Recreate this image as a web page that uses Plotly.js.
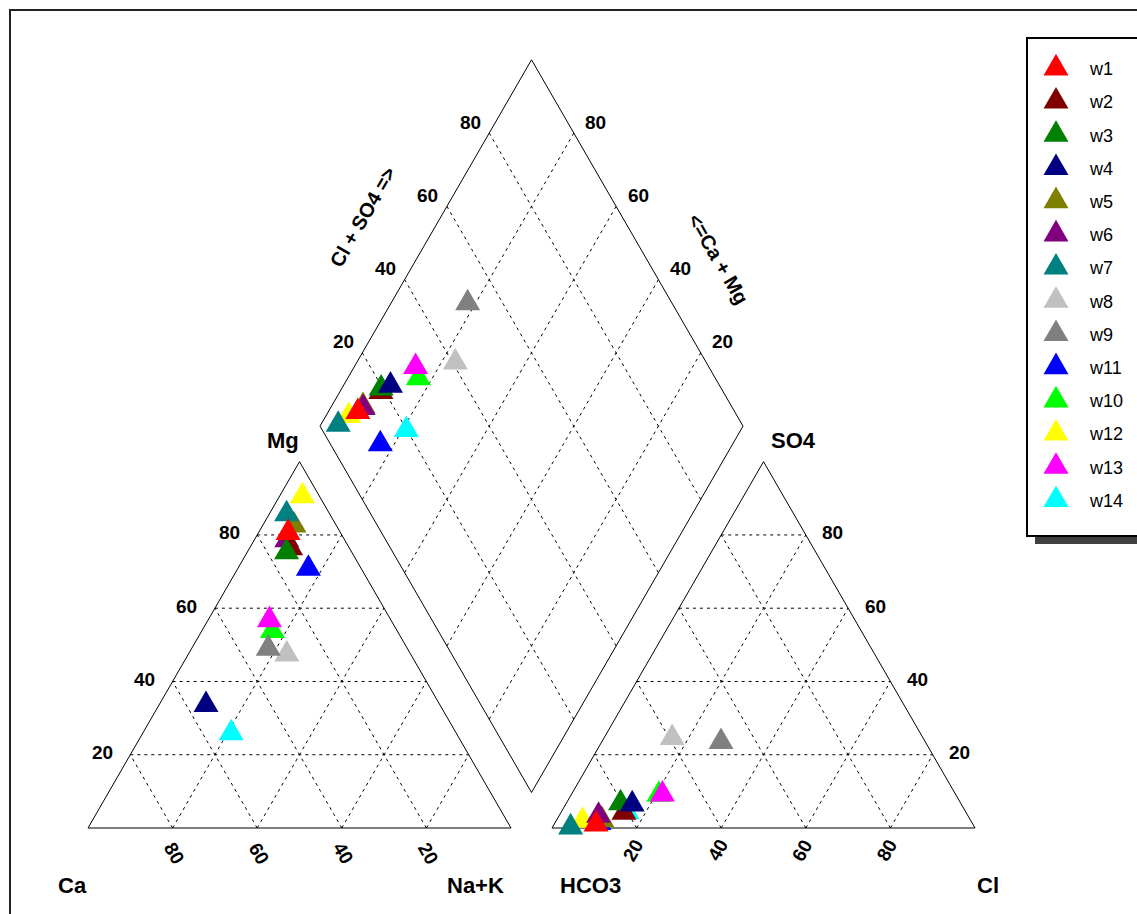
<!DOCTYPE html>
<html><head><meta charset="utf-8">
<script src="https://cdn.plot.ly/plotly-3.0.1.min.js"></script>
<style>html,body{margin:0;padding:0;background:#fff;} #chart{width:1137px;height:914px;}</style>
</head><body><div id="chart"></div>
<script>
// ---- data (percent of meq/l) ----
const wells   = ['w1','w2','w3','w4','w5','w6','w7','w8','w9','w11','w10','w12','w13','w14'];
const colors  = ['#FF0000','#800000','#008000','#000080','#808000','#800080','#008080','#C0C0C0','#808080','#0000FF','#00FF00','#FFFF00','#FF00FF','#00FFFF'];
// cations
const mg   = [80.6, 76.4, 75.3, 33.6, 82.6, 78.6, 85.7, 47.4, 49.0, 70.8, 53.8, 90.6, 56.8, 25.9];
const nak  = [ 7.0,  9.7,  9.3, 11.1,  7.4,  7.7,  4.1, 23.3, 18.1, 16.7, 16.7,  5.4, 14.5, 20.9];
const ca   = mg.map((m,i)=> +(100 - m - nak[i]).toFixed(1));
// anions
const so4  = [ 1.0,  4.2,  6.8,  6.5,  2.2,  3.4,  0.2, 24.6, 23.5,  1.4,  9.1,  2.0,  9.2,  4.4];
const cl   = [ 9.9, 14.9, 12.8, 15.7, 10.7,  9.3,  4.3, 16.1, 28.2, 10.4, 20.7,  6.2, 21.5, 15.5];
const hco3 = so4.map((s,i)=> +(100 - s - cl[i]).toFixed(1));
// drawing order (bottom to top)
const drawOrder = ['w11','w5','w12','w6','w14','w2','w10','w3','w4','w7','w1','w13','w8','w9'];
const gridTicks = [20, 40, 60, 80];
const tickLabels = ['20', '40', '60', '80'];

// ---- geometry ----
const G = 9.7, H = Math.sqrt(3)/2;
const OX = 100 + G;
const BX = 100 + G/2, BY = G*H;
const cat = (m, n) => [n + m/2, m*H];
const ani = (s, c) => [OX + c + s/2, s*H];
const dia = (n, h) => { const s = 100 - n, t = 100 - h; return [BX + (t - s)/2, BY + (s + t)*H]; };
const uL = [-0.5, H], uR = [0.5, H];
const add = (p, v, k) => [p[0] + v[0]*k, p[1] + v[1]*k];
const B = [BX, BY];

const traces = [];
function seg(list, dash) {
  const x = [], y = [];
  list.forEach(([a, b]) => { x.push(a[0], b[0], null); y.push(a[1], b[1], null); });
  traces.push({x, y, mode:'lines', type:'scatter', showlegend:false, hoverinfo:'skip',
    line:{color:'#000', width:1, dash: dash ? '3px,4px' : 'solid'}});
}
// outlines
seg([[[0,0],[100,0]],[[100,0],[50,100*H]],[[50,100*H],[0,0]],
     [[OX,0],[OX+100,0]],[[OX+100,0],[OX+50,100*H]],[[OX+50,100*H],[OX,0]],
     [B, add(B,uL,100)], [add(B,uL,100), add(add(B,uL,100),uR,100)],
     [add(add(B,uL,100),uR,100), add(B,uR,100)], [add(B,uR,100), B]], false);
// grids
const g = [];
gridTicks.forEach(v => {
  g.push([[v/2, v*H],[100 - v/2, v*H]]);
  g.push([[v,0],[v + (100-v)/2, (100-v)*H]]);
  g.push([[100-v,0],[(100-v)/2, (100-v)*H]]);
  g.push([[OX+v/2, v*H],[OX+100 - v/2, v*H]]);
  g.push([[OX+v,0],[OX+v + (100-v)/2, (100-v)*H]]);
  g.push([[OX+100-v,0],[OX+(100-v)/2, (100-v)*H]]);
  g.push([add(B,uL,v), add(add(B,uL,v),uR,100)]);
  g.push([add(B,uR,v), add(add(B,uR,v),uL,100)]);
});
seg(g, true);

// samples
drawOrder.forEach(w => {
  const i = wells.indexOf(w);
  const p1 = cat(mg[i], nak[i]), p2 = ani(so4[i], cl[i]), p3 = dia(nak[i], hco3[i]);
  traces.push({
    type:'scatter', mode:'markers', name: w, legendgroup: w, legendrank: i + 1,
    x:[p1[0], p2[0], p3[0]], y:[p1[1], p2[1], p3[1]],
    marker:{symbol:'triangle-up', size:22, color: colors[i], line:{width:0}},
    hoverinfo:'name'
  });
});

// labels
const F = 'Liberation Sans, Arial, sans-serif';
const ann = [];
function lab(p, text, xs, ys, size, angle) {
  ann.push({x:p[0], y:p[1], xref:'x', yref:'y', text, showarrow:false, xshift:xs, yshift:ys,
    textangle: angle || 0, font:{family:F, size: size, color:'#000', weight:'bold'}});
}
gridTicks.forEach((v, k) => {
  const t = tickLabels[k];
  lab([v/2, v*H], t, -28, 2, 19);                 // Mg
  lab([100 - v, 0], t, 2, -25, 19, 60);            // Ca
  lab([OX + 100 - v/2, v*H], t, 27, 2, 19);        // SO4
  lab([OX + v, 0], t, -4, -22, 19, -60);           // Cl
  lab(add(add(B,uL,100),uR,v), t, -19, 11, 19);    // Cl+SO4
  lab(add(add(B,uR,100),uL,v), t, 22, 11, 19);     // Ca+Mg
});
lab([50, 100*H], 'Mg', -17, 21, 22);
lab([OX + 50, 100*H], 'SO4', 30, 21, 22);
lab([0, 0], 'Ca', -16, -57, 22);
lab([100, 0], 'Na+K', -36, -57, 22);
lab([OX, 0], 'HCO3', 38, -57, 22);
lab([OX + 100, 0], 'Cl', 13, -57, 22);
lab(add(add(B,uL,100),uR,50), 'Cl + SO4 =>', -63, 26, 20, -60);
lab(add(add(B,uR,100),uL,50), '<=Ca + Mg', 81, -16, 20, 60);

const W = 1137, Hh = 914;
const px = v => v / W, py = v => 1 - v / Hh;
const shapes = [
  {type:'rect', xref:'paper', yref:'paper', x0:px(10), x1:px(1150), y0:py(10), y1:py(930),
   line:{color:'#222', width:2}, fillcolor:'rgba(0,0,0,0)', layer:'below'},
  {type:'rect', xref:'paper', yref:'paper', x0:px(1035), x1:px(1150), y0:py(46), y1:py(544),
   line:{color:'#404040', width:0}, fillcolor:'#404040', layer:'below'},
  {type:'rect', xref:'paper', yref:'paper', x0:px(1027), x1:px(1150), y0:py(38), y1:py(536),
   line:{color:'#000', width:2}, fillcolor:'#fff', layer:'below'}
];

const layout = {
  width: W, height: Hh, margin:{l:0, r:0, t:0, b:0, pad:0},
  paper_bgcolor:'#fff', plot_bgcolor:'rgba(0,0,0,0)',
  xaxis:{range:[-88/4.23, (W-88)/4.23], visible:false, fixedrange:true},
  yaxis:{range:[(828-Hh)/4.23, 828/4.23], visible:false, fixedrange:true},
  showlegend:true,
  legend:{x:px(1022), y:py(50), xanchor:'left', yanchor:'top', bgcolor:'rgba(0,0,0,0)', borderwidth:0,
    font:{family:F, size:18, color:'#000'}, tracegroupgap:6.8, itemwidth:58},
  annotations: ann, shapes: shapes
};
// equilateral triangle glyph (side 25 px, centred on its centroid)
const TRI = 'M-12.5,7.2H12.5L0,-14.4Z';
Plotly.newPlot('chart', traces, layout, {staticPlot:true, displayModeBar:false}).then(gd => {
  gd.querySelectorAll('.scatterlayer .trace path.point, .legend path.scatterpts').forEach(p => p.setAttribute('d', TRI));
});
</script></body></html>
